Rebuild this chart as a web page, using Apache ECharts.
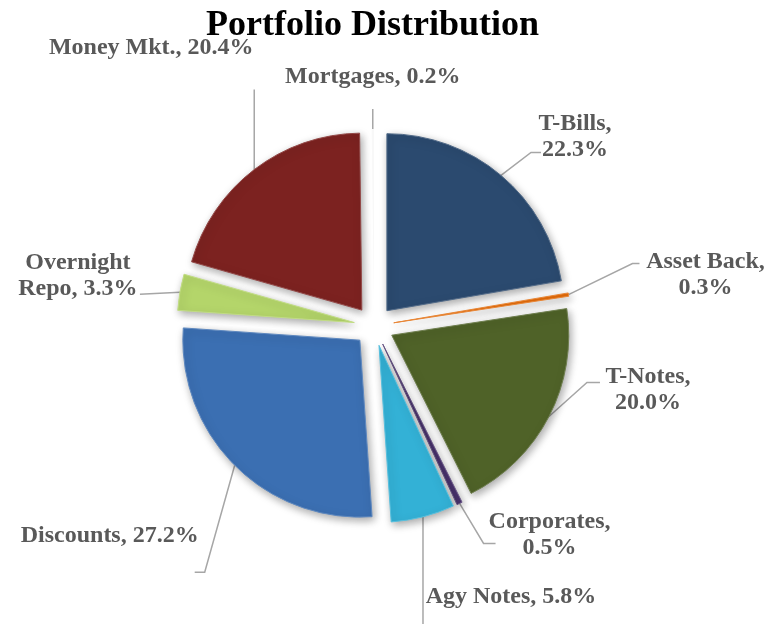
<!DOCTYPE html>
<html>
<head>
<meta charset="utf-8">
<script src="https://cdn.jsdelivr.net/npm/echarts@6/dist/echarts.min.js"></script>
<style>
  html, body { margin: 0; padding: 0; background: #fff; }
  #chart { width: 775px; height: 624px; }
</style>
</head>
<body>
<div id="chart"></div>
<script>
const categories = ['T-Bills', 'Asset Back', 'T-Notes', 'Corporates', 'Agy Notes', 'Discounts', 'Overnight Repo', 'Money Mkt.', 'Mortgages'];
const percents = [22.3, 0.3, 20.0, 0.5, 5.8, 27.2, 3.3, 20.4, 0.2];
// how each label is written (line breaks as in the picture)
const labelNames = ['T-Bills,\n', 'Asset Back,\n', 'T-Notes,\n', 'Corporates,\n', 'Agy Notes, ', 'Discounts, ', 'Overnight\nRepo, ', 'Money Mkt., ', 'Mortgages, '];
const colors = ['#2b4a6f', '#e46c0a', '#4f6228', '#4b3470', '#33b1d6', '#3b6fb2', '#b4d56a', '#7c2220', '#f8f8f8'];

// leader line shape, relative to the point where it leaves the slice
const leaders = [
  { bend: [30, -23], end: [40, -23], text: [74, -39] },
  { bend: [64, -31], end: [71, -31], text: [137, -20] },
  { bend: [38, -34], end: [51, -34], text: [99, -27] },
  { bend: [24, 40], end: [36, 40], text: [90, 31] },
  { bend: [0, 104], end: [0, 110], text: [88, 80] },
  { bend: [-30, 107], end: [-40, 107], text: [-125, 70] },
  { bend: [-20, 1], end: [-40, 2], text: [-102, -16] },
  { bend: [0, -40], end: [0, -80], text: [-103, -122] },
  { bend: [0, -10], end: [0, -20], text: [0, -52] }
];

const chart = echarts.init(document.getElementById('chart'));

chart.setOption({
  animation: false,
  title: {
    text: 'Portfolio Distribution',
    left: 201,
    top: 3,
    textStyle: {
      fontFamily: 'Liberation Serif',
      fontWeight: 'bold',
      fontSize: 36,
      color: '#000'
    }
  },
  series: [{
    type: 'pie',
    center: [374, 326],
    radius: [0, 177],
    startAngle: 90,
    clockwise: true,
    selectedMode: 'multiple',
    selectedOffset: 20,
    avoidLabelOverlap: false,
    minShowLabelAngle: 0,
    itemStyle: {
      borderWidth: 1,
      shadowBlur: 8,
      shadowColor: 'rgba(0,0,0,0.35)',
      shadowOffsetX: 2,
      shadowOffsetY: 3
    },
    label: {
      show: true,
      position: 'outside',
      fontFamily: 'Liberation Serif',
      fontWeight: 'bold',
      fontSize: 24,
      lineHeight: 26,
      color: '#595959',
      formatter: p => labelNames[p.dataIndex] + p.value.toFixed(1) + '%'
    },
    labelLine: {
      show: true,
      length: 20,
      length2: 10,
      lineStyle: { color: '#a6a6a6', width: 1.5 }
    },
    labelLayout: function (params) {
      const L = leaders[params.dataIndex];
      const p = params.labelLinePoints[0];
      const r = params.labelRect;
      // anchor of the label as laid out by the pie
      const ax = params.align === 'right' ? r.x + r.width : (params.align === 'center' ? r.x + r.width / 2 : r.x);
      const ay = r.y + r.height / 2;
      return {
        dx: p[0] + L.text[0] - ax,
        dy: p[1] + L.text[1] - ay,
        align: 'center',
        verticalAlign: 'middle',
        labelLinePoints: [
          [p[0], p[1]],
          [p[0] + L.bend[0], p[1] + L.bend[1]],
          [p[0] + L.end[0], p[1] + L.end[1]]
        ]
      };
    },
    emphasis: { disabled: true },
    data: categories.map((name, i) => {
      // the mortgages sliver is almost invisible in the picture
      const faint = i === categories.length - 1;
      return {
        name: name,
        value: percents[i],
        selected: true,
        itemStyle: {
          color: colors[i],
          borderWidth: faint ? 0 : 1,
          borderColor: echarts.color.lift(colors[i], 0.18),
          shadowColor: faint ? 'rgba(0,0,0,0)' : 'rgba(0,0,0,0.35)'
        }
      };
    })
  }]
});
</script>
</body>
</html>
